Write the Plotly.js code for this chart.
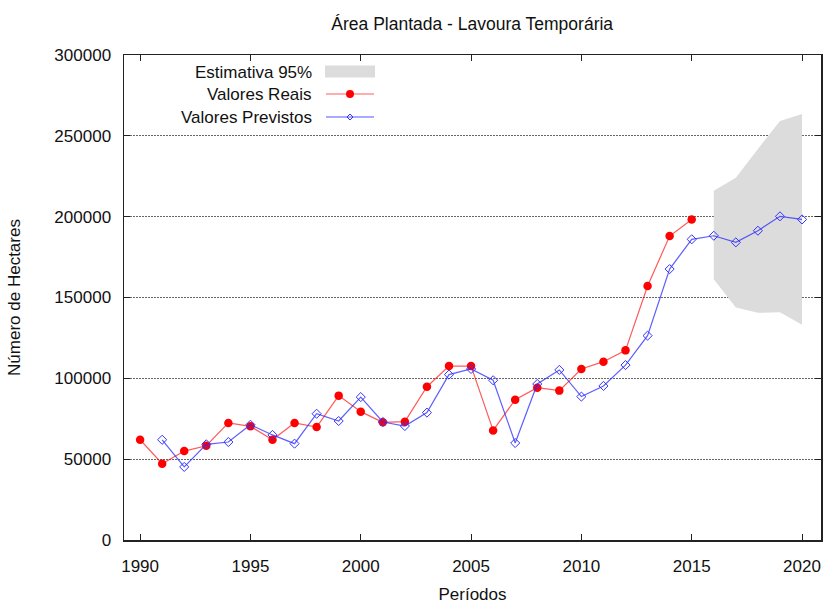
<!DOCTYPE html>
<html>
<head>
<meta charset="utf-8">
<script src="https://cdn.plot.ly/plotly-3.0.1.min.js"></script>
<style>html,body{margin:0;padding:0;background:#fff;}#chart{width:827px;height:604px;}</style>
</head>
<body>
<div id="chart"></div>
<script>
// ---- data ----
const yearsReal = [1990,1991,1992,1993,1994,1995,1996,1997,1998,1999,2000,2001,2002,2003,2004,2005,2006,2007,2008,2009,2010,2011,2012,2013,2014,2015];
const valoresReais = [62000,47200,55000,58300,72400,70300,62000,72400,69900,89300,79400,72800,73200,94800,107600,107600,67800,86800,94200,92400,105800,110300,117300,157100,188000,198300];

const yearsPrev = [1991,1992,1993,1994,1995,1996,1997,1998,1999,2000,2001,2002,2003,2004,2005,2006,2007,2008,2009,2010,2011,2012,2013,2014,2015,2016,2017,2018,2019,2020];
const valoresPrevistos = [62000,45200,59200,60600,71300,65000,59600,78100,73600,88400,73000,70500,78800,102300,105800,98800,60000,96500,105200,88700,95300,108200,126400,167600,186000,188200,184100,191300,200200,198300];

const yearsBand = [2016,2017,2018,2019,2020];
const bandUpper = [216000,224100,241800,259200,263500];
const bandLower = [161300,143800,140500,140800,133200];

const xTicks = [1990,1995,2000,2005,2010,2015,2020];
const yTicks = [0,50000,100000,150000,200000,250000,300000];

const labels = {
  title: 'Área Plantada - Lavoura Temporária',
  xTitle: 'Períodos',
  yTitle: 'Número de Hectares',
  band: 'Estimativa 95%',
  real: 'Valores Reais',
  prev: 'Valores Previstos'
};

// ---- styles ----
const FONT = 'Liberation Sans, Arial, sans-serif';
const FS = 17;
const BAND_COLOR = '#dcdcdc';
const RED = '#ff0000';
const BLUE = '#3333ff';

const traces = [
  {x: yearsBand, y: bandLower, mode: 'lines', line: {width: 0, color: BAND_COLOR}, hoverinfo: 'skip', showlegend: false},
  {x: yearsBand, y: bandUpper, mode: 'lines', fill: 'tonexty', fillcolor: BAND_COLOR, line: {width: 0, color: BAND_COLOR}, name: labels.band, showlegend: false},
  {x: yearsReal, y: valoresReais, mode: 'lines+markers', name: labels.real, showlegend: false,
   line: {color: 'rgba(255,0,0,0.65)', width: 1.2},
   marker: {color: RED, size: 8.5, symbol: 'circle'}},
  {x: yearsPrev, y: valoresPrevistos, mode: 'lines+markers', name: labels.prev, showlegend: false,
   line: {color: 'rgba(40,40,255,0.75)', width: 1.2},
   marker: {color: BLUE, size: 7, symbol: 'diamond-open', line: {width: 1, color: BLUE}}}
];

// legend (gnuplot style: text left, sample right)
const L = 124, W = 697, T = 55, H = 485;
const px = v => (v - L) / W;
const py = v => (T + H - v) / H;
const legendTextX = px(314);
const rows = [72.5, 94, 117];

const annotations = [
  {text: labels.band, y: py(rows[0])},
  {text: labels.real, y: py(rows[1])},
  {text: labels.prev, y: py(rows[2])}
].map(a => ({xref: 'paper', yref: 'paper', x: legendTextX, y: a.y, xanchor: 'right', yanchor: 'middle',
  text: a.text, showarrow: false, font: {family: FONT, size: FS, color: '#111'}}));

const shapes = [
  {type: 'rect', xref: 'paper', yref: 'paper', x0: px(325), x1: px(375), y0: py(77.5), y1: py(65.5), fillcolor: BAND_COLOR, line: {width: 0}},
  {type: 'line', xref: 'paper', yref: 'paper', x0: px(326), x1: px(374), y0: py(rows[1]), y1: py(rows[1]), line: {color: 'rgba(255,0,0,0.65)', width: 1.2}},
  {type: 'circle', xref: 'paper', yref: 'paper', xsizemode: 'pixel', ysizemode: 'pixel', xanchor: px(350), yanchor: py(rows[1]),
   x0: -4, x1: 4, y0: -4, y1: 4, fillcolor: RED, line: {width: 0}},
  {type: 'line', xref: 'paper', yref: 'paper', x0: px(326), x1: px(374), y0: py(rows[2]), y1: py(rows[2]), line: {color: 'rgba(40,40,255,0.8)', width: 1.2}},
  {type: 'path', xref: 'paper', yref: 'paper', xsizemode: 'pixel', ysizemode: 'pixel', xanchor: px(350), yanchor: py(rows[2]),
   path: 'M -3 0 L 0 3 L 3 0 L 0 -3 Z', fillcolor: 'rgba(0,0,0,0)', line: {color: BLUE, width: 1}}
];

const layout = {
  width: 827, height: 604,
  margin: {l: L, r: 827 - L - W, t: T, b: 604 - T - H},
  paper_bgcolor: '#fff', plot_bgcolor: '#fff',
  font: {family: FONT, size: FS, color: '#111'},
  title: {text: labels.title, x: 0.571, xanchor: 'center', y: 0.96, yanchor: 'middle', font: {family: FONT, size: 17.5, color: '#111'}},
  showlegend: false,
  xaxis: {
    range: [1989.27, 2020.86], tickvals: xTicks, ticktext: xTicks.map(String),
    ticks: 'inside', ticklen: 6, tickcolor: '#222', tickwidth: 1,
    showline: true, linecolor: '#222', linewidth: 1.5, mirror: 'ticks',
    showgrid: false, zeroline: false, ticklabelstandoff: 10,
    title: {text: labels.xTitle, standoff: 24, font: {family: FONT, size: FS, color: '#111'}}
  },
  yaxis: {
    range: [0, 300000], tickvals: yTicks, ticktext: yTicks.map(String),
    ticks: 'inside', ticklen: 6, tickcolor: '#222', tickwidth: 1,
    showline: true, linecolor: '#222', linewidth: 1.5, mirror: 'ticks',
    showgrid: true, gridcolor: '#666', griddash: '2px,1px', gridwidth: 1,
    zeroline: false, ticklabelstandoff: 8,
    title: {text: labels.yTitle, standoff: 29, font: {family: FONT, size: FS, color: '#111'}}
  },
  annotations: annotations,
  shapes: shapes
};

Plotly.newPlot('chart', traces, layout, {displayModeBar: false, staticPlot: true});
</script>
</body>
</html>
